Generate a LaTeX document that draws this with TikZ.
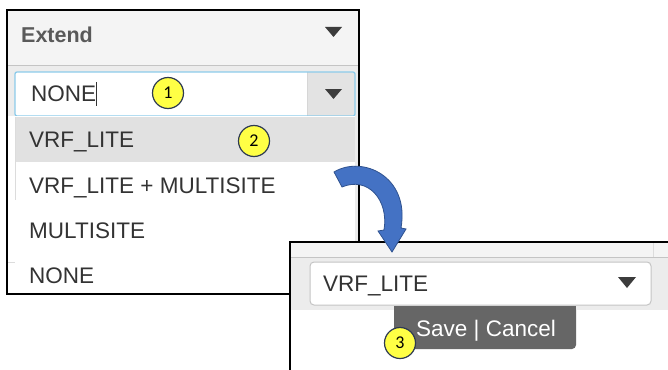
\documentclass[tikz,border=0pt]{standalone}
\usepackage{fontspec}
\setmainfont{Liberation Sans}
\newfontfamily\badgefont{Carlito}
\usetikzlibrary{arrows.meta}
\definecolor{hdrfill}{HTML}{F4F4F4}
\definecolor{panelgray}{HTML}{ECECEC}
\definecolor{rowhl}{HTML}{E1E1E1}
\definecolor{itemc}{HTML}{333333}
\definecolor{hdrtext}{HTML}{5A5A5A}
\definecolor{focusblue}{HTML}{8CCBEA}
\definecolor{btngray}{HTML}{E3E3E3}
\definecolor{savegray}{HTML}{666666}
\definecolor{badgey}{HTML}{FFFF45}
\definecolor{badgeline}{HTML}{2E3A52}
\definecolor{arrowfill}{HTML}{4472C4}
\definecolor{arrowline}{HTML}{2F528F}
\definecolor{sepgray}{HTML}{C4C4C4}
\definecolor{tricol}{HTML}{3C3C3C}
\begin{document}
\begin{tikzpicture}[x=1pt,y=-1pt,
  item/.style={anchor=base west, inner sep=0pt, text=itemc, font=\fontsize{22.5}{26}\selectfont},
  badge/.style={circle, draw=badgeline, line width=1.2pt, fill=badgey, minimum size=31pt, inner sep=0pt, font=\badgefont\fontsize{18}{19}\selectfont},
  tri/.style={fill=tricol}]
\useasboundingbox (0,0) rectangle (668,369);
\fill[white] (0,0) rectangle (668,369);

% ---------- left panel ----------
\fill[hdrfill] (7,10) rectangle (359,65);
\fill[panelgray] (7,65) rectangle (359,294);
\draw[sepgray, line width=1pt] (7,65) -- (359,65);
% input box
\fill[white] (15,72) rectangle (355,116);
\fill[btngray] (307,72) rectangle (355,116);
\draw[sepgray!70] (307,72) -- (307,116);
\draw[focusblue, line width=1.3pt, rounded corners=2pt] (15,72) rectangle (355,116);
\node[item, anchor=base west] (none1) at (31,101) {NONE};
\draw[itemc, line width=0.9pt] (none1.east |- 0,82) -- (none1.east |- 0,106);
\fill[tri] (325,89) -- (342,89) -- (333.5,99) -- cycle;
\fill[tri] (325,27) -- (342,27) -- (333.5,37) -- cycle;
\node[anchor=base west, inner sep=0pt, text=hdrtext, font=\bfseries\fontsize{21.5}{24}\selectfont] (extend) at (21,43) {Extend};
% list
\fill[white] (7,116) rectangle (355,294);
\fill[rowhl] (15,117) rectangle (355,162);
\draw[sepgray!60] (15,117) -- (15,200);
\draw[sepgray!60] (7,262) -- (15,262);
\node[item] (opt1) at (29,147) {VRF\_LITE};
\node[item] (opt2) at (29,193) {VRF\_LITE + MULTISITE};
\node[item] (opt3) at (29,238) {MULTISITE};
\node[item] (opt4) at (29,283) {NONE};
\draw[black, line width=1.2pt] (7,10) rectangle (359,294);

% ---------- right panel ----------
\fill[hdrfill] (290,242) rectangle (670,257);
\fill[panelgray] (290,257) rectangle (670,310);
\fill[white] (290,310) rectangle (670,372);
\draw[sepgray, line width=1pt] (290,257) -- (670,257);
\draw[sepgray!60] (653,242) -- (653,257);
\draw[black, line width=1.2pt] (290,372) -- (290,242) -- (670,242);
\draw[sepgray, fill=white, line width=1pt, rounded corners=4pt] (310,262) rectangle (651,305);
\node[item] (sel) at (323,291) {VRF\_LITE};
\fill[tri] (618,277) -- (636,277) -- (627,288) -- cycle;
\fill[savegray, rounded corners=4pt] (394,306) -- (394,349) -- (576,349) -- (576,306) -- cycle;
\fill[savegray] (394,306) rectangle (576,312);
\node[anchor=base west, inner sep=0pt, text=white, font=\fontsize{22.5}{26}\selectfont] (save) at (416,336) {Save | Cancel};

% ---------- badges ----------
\node[badge] (b1) at (168,93) {1};
\node[badge] (b2) at (254,141) {2};
\node[badge] (b3) at (400,343) {3};

% ---------- curved arrow ----------
\coordinate (arrtail) at (338,179);
\coordinate (arrtip) at (392,252);
\filldraw[fill=arrowfill, draw=arrowline, line width=0.8pt]
  (334,172) .. controls (362,155) and (410,176) .. (401,228)
  -- (406,229) -- (arrtip) -- (378,231) -- (384,230)
  .. controls (389,200) and (368,176) .. (342,187) -- cycle;
\end{tikzpicture}
\end{document}
